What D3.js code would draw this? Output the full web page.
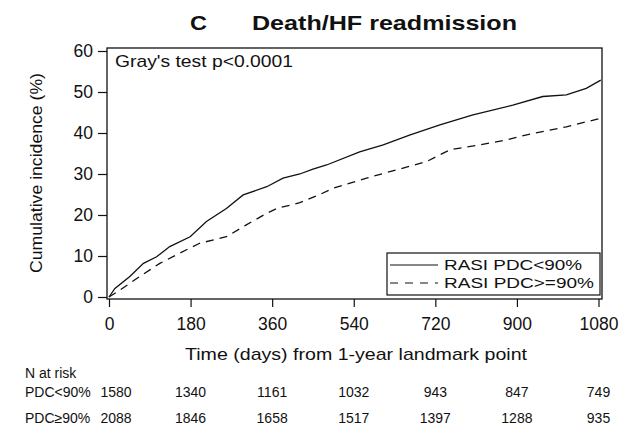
<!DOCTYPE html>
<meta charset="utf-8">
<style>
 body { margin: 0; background: #fff; }
 svg { display: block; }
 text {
   font-family: "Liberation Sans", Arial, sans-serif;
   fill: #111;
 }
 .axis path.domain { display: none; }
 .axis line { stroke: #111; stroke-width: 1.2px; }
 .axis text { font-size: 17.5px; }
 .curve { fill: none; stroke: #111; stroke-width: 1.3px; }
 .risk { font-size: 14px; }
</style>
<svg width="620" height="431"></svg>
<script src="https://d3js.org/d3.v7.min.js"></script>
<script>

 // cumulative incidence (day, %)
 var days_lt90 = [0, 13, 46, 76, 105, 134, 179, 215, 259, 296, 348, 384, 421, 450, 480, 553, 605, 663, 730, 803, 891, 957, 1009, 1053, 1085];
 var inc_lt90  = [0, 2.1, 5.0, 8.2, 9.8, 12.3, 14.7, 18.4, 21.6, 24.9, 26.9, 29.0, 30.0, 31.2, 32.2, 35.4, 37.1, 39.5, 42.0, 44.4, 46.8, 48.9, 49.3, 50.9, 52.9];

 var days_ge90 = [0, 24, 68, 112, 156, 200, 259, 303, 348, 370, 421, 465, 494, 568, 634, 700, 752, 818, 876, 935, 1009, 1085];
 var inc_ge90  = [0, 1.7, 5.0, 8.2, 10.7, 13.1, 14.7, 17.6, 20.4, 21.6, 23.0, 25.0, 26.5, 29.0, 31.0, 33.0, 35.9, 37.1, 38.3, 39.9, 41.5, 43.6];

 var xTicks = [0, 180, 360, 540, 720, 900, 1080];
 var yTicks = [0, 10, 20, 30, 40, 50, 60];

 var riskLabels = ["PDC<90%", "PDC\u226590%"];
 var risk_lt90 = [1580, 1340, 1161, 1032, 943, 847, 749];
 var risk_ge90 = [2088, 1846, 1658, 1517, 1397, 1288, 935];

 var legendLabels = ["RASI PDC<90%", "RASI PDC>=90%"];

 var svg = d3.select("svg");

 var x = d3.scaleLinear().domain([0, 1080]).range([109, 598.5]);
 var y = d3.scaleLinear().domain([0, 60]).range([297, 51]);

 var box = { left: 107, right: 602, top: 48, bottom: 299 };

 // title
 svg.append("text").attr("x", 190).attr("y", 30)
    .style("font-size", "21px").style("font-weight", "bold")
    .attr("textLength", 17).attr("lengthAdjust", "spacingAndGlyphs")
    .text("C");
 svg.append("text").attr("x", 252).attr("y", 30)
    .style("font-size", "21px").style("font-weight", "bold")
    .attr("textLength", 265).attr("lengthAdjust", "spacingAndGlyphs")
    .text("Death/HF readmission");

 // axes
 svg.append("g").attr("class", "axis")
    .attr("transform", "translate(0," + box.bottom + ")")
    .call(d3.axisBottom(x).tickValues(xTicks).tickFormat(d3.format("d"))
            .tickSize(8).tickPadding(11).tickSizeOuter(0));

 svg.append("g").attr("class", "axis")
    .attr("transform", "translate(" + box.left + ",0)")
    .call(d3.axisLeft(y).tickValues(yTicks).tickSize(9).tickPadding(5).tickSizeOuter(0));

 svg.append("text")
    .attr("transform", "translate(42,173) rotate(-90)")
    .attr("text-anchor", "middle")
    .style("font-size", "17px")
    .attr("textLength", 200).attr("lengthAdjust", "spacingAndGlyphs")
    .text("Cumulative incidence (%)");

 svg.append("text").attr("x", 185).attr("y", 360)
    .style("font-size", "17px")
    .attr("textLength", 342).attr("lengthAdjust", "spacingAndGlyphs")
    .text("Time (days) from 1-year landmark point");

 // curves
 var line = d3.line()
              .x(function(d) { return x(d[0]); })
              .y(function(d) { return y(d[1]); });

 svg.append("path").attr("class", "curve")
    .attr("d", line(d3.zip(days_lt90, inc_lt90)));

 svg.append("path").attr("class", "curve")
    .attr("stroke-dasharray", "8,6")
    .attr("d", line(d3.zip(days_ge90, inc_ge90)));

 // plot frame
 svg.append("rect")
    .attr("x", box.left).attr("y", box.top)
    .attr("width", box.right - box.left).attr("height", box.bottom - box.top)
    .attr("fill", "none").attr("stroke", "#111").attr("stroke-width", 1.3);

 svg.append("text").attr("x", 115).attr("y", 67)
    .style("font-size", "17px")
    .attr("textLength", 178).attr("lengthAdjust", "spacingAndGlyphs")
    .text("Gray's test p<0.0001");

 // legend
 var lg = svg.append("g");
 lg.append("rect")
   .attr("x", 387).attr("y", 253).attr("width", 213).attr("height", 42)
   .attr("fill", "#fff").attr("stroke", "#111").attr("stroke-width", 1.2);
 var legendY = [265, 283], legendW = [138, 150];
 legendLabels.forEach(function(lab, i) {
   lg.append("line")
     .attr("x1", 390).attr("x2", 438)
     .attr("y1", legendY[i]).attr("y2", legendY[i])
     .attr("stroke", "#111").attr("stroke-width", 1.2)
     .attr("stroke-dasharray", i ? "8,7" : null);
   lg.append("text")
     .attr("x", 444).attr("y", legendY[i] + 5)
     .style("font-size", "15.5px")
     .attr("textLength", legendW[i]).attr("lengthAdjust", "spacingAndGlyphs")
     .text(lab);
 });

 // numbers at risk
 svg.append("text").attr("class", "risk")
    .attr("x", 25).attr("y", 378).text("N at risk");

 [risk_lt90, risk_ge90].forEach(function(row, i) {
   var ry = [397, 423][i];
   svg.append("text").attr("class", "risk")
      .attr("x", 25).attr("y", ry).text(riskLabels[i]);
   svg.selectAll(null)
      .data(row)
      .enter().append("text")
      .attr("class", "risk")
      .attr("text-anchor", "middle")
      .attr("x", function(d, j) { return j === 0 ? 116 : x(xTicks[j]); })
      .attr("y", ry)
      .text(function(d) { return d; });
 });
</script>
